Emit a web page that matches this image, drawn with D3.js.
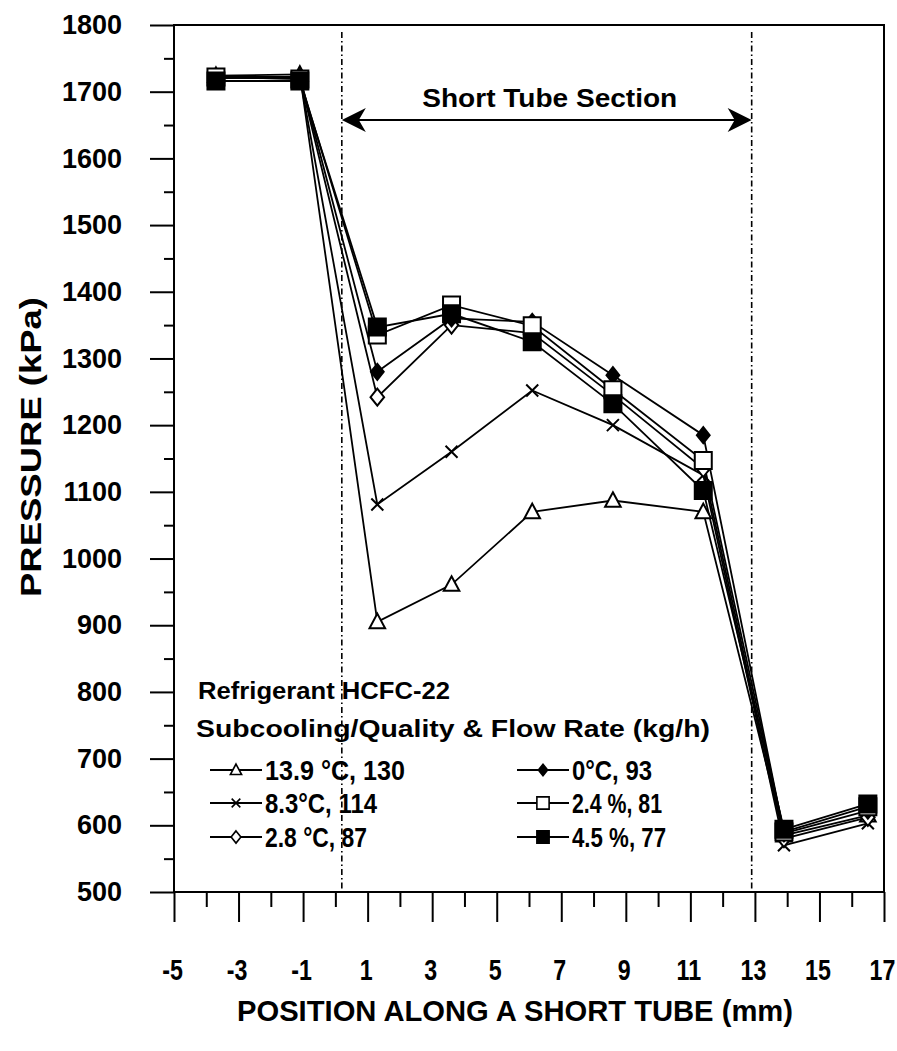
<!DOCTYPE html>
<html><head><meta charset="utf-8">
<script src="https://cdn.jsdelivr.net/npm/d3@7"></script>
<style>
body{margin:0;background:#fff}
svg{display:block}
text{font-family:"Liberation Sans",Arial,Helvetica,sans-serif;fill:#000}
</style>
</head><body>
<svg id="c" width="897" height="1051"></svg>
<script>
// ---- data ----
const positions = [-3.7, -1.1, 1.3, 3.6, 6.1, 8.6, 11.4, 13.9, 16.5];
const seriesNames = ["13.9 °C, 130", "8.3°C, 114", "2.8 °C, 87", "0°C, 93", "2.4 %, 81", "4.5 %, 77"];
const triangleVals      = [1724, 1726, 905, 961, 1070, 1087, 1070, 585, 615];
const crossVals         = [1720, 1722, 1081, 1160, 1252, 1200, 1125, 570, 603];
const diamondOpenVals   = [1721, 1720, 1242, 1350, 1338, 1245, 1135, 580, 612];
const diamondFilledVals = [1722, 1722, 1280, 1360, 1355, 1275, 1185, 588, 622];
const squareOpenVals    = [1722, 1719, 1335, 1380, 1349, 1253, 1147, 590, 628];
const squareFilledVals  = [1716, 1716, 1347, 1367, 1325, 1232, 1102, 594, 632];
const xTickLabels = [-5, -3, -1, 1, 3, 5, 7, 9, 11, 13, 15, 17];
const xMinorTicks = [-4, -2, 0, 2, 4, 6, 8, 10, 12, 14, 16];
const yTickLabels = [500, 600, 700, 800, 900, 1000, 1100, 1200, 1300, 1400, 1500, 1600, 1700, 1800];
const yMinorTicks = [550, 650, 750, 850, 950, 1050, 1150, 1250, 1350, 1450, 1550, 1650, 1750];
const tubeSection = [0.2, 12.9];

// ---- layout ----
const L = 174, R = 884, T = 25, B = 892;
const svg = d3.select("#c");
const x = d3.scaleLinear().domain([-5, 17]).range([L, R]);
const y = d3.scaleLinear().domain([500, 1800]).range([B, T]);

// symbol types
const symTri = {draw(c, s){ const h = s; c.moveTo(0, -h*0.55); c.lineTo(h*0.52, h*0.42); c.lineTo(-h*0.52, h*0.42); c.closePath(); }};
const symCross = {draw(c, s){ const h = s/2; c.moveTo(-h, -h); c.lineTo(h, h); c.moveTo(h, -h); c.lineTo(-h, h); }};
const symDiamond = {draw(c, s){ const h = s/2, w = s*0.4; c.moveTo(0, -h); c.lineTo(w, 0); c.lineTo(0, h); c.lineTo(-w, 0); c.closePath(); }};
const symSquare = {draw(c, s){ const h = s/2; c.rect(-h, -h, s, s); }};

const series = [
  {name: seriesNames[0], vals: triangleVals, type: symTri, size: 15, fill: "#fff"},
  {name: seriesNames[1], vals: crossVals, type: symCross, size: 12, fill: "none"},
  {name: seriesNames[2], vals: diamondOpenVals, type: symDiamond, size: 17, fill: "#fff"},
  {name: seriesNames[3], vals: diamondFilledVals, type: symDiamond, size: 16, fill: "#000"},
  {name: seriesNames[4], vals: squareOpenVals, type: symSquare, size: 17, fill: "#fff"},
  {name: seriesNames[5], vals: squareFilledVals, type: symSquare, size: 17, fill: "#000"}
];

// frame
svg.append("rect").attr("x", L).attr("y", T).attr("width", R - L).attr("height", B - T)
  .attr("fill", "none").attr("stroke", "#000").attr("stroke-width", 2);

// short tube section dash-dot lines
svg.selectAll(".sec").data(tubeSection).enter().append("line")
  .attr("x1", d => x(d)).attr("x2", d => x(d)).attr("y1", T + 7).attr("y2", B - 2)
  .attr("stroke", "#000").attr("stroke-width", 1.6).attr("stroke-dasharray", "6,3,1.5,3");

// arrow
const ay = 120;
svg.append("line").attr("x1", x(tubeSection[0]) + 10).attr("x2", x(tubeSection[1]) - 10)
  .attr("y1", ay).attr("y2", ay).attr("stroke", "#000").attr("stroke-width", 2.2);
const head = (tx, dir) => `M${tx},${ay} L${tx + dir*24},${ay - 12} L${tx + dir*17},${ay} L${tx + dir*24},${ay + 12} Z`;
svg.append("path").attr("d", head(x(tubeSection[0]), 1)).attr("fill", "#000");
svg.append("path").attr("d", head(x(tubeSection[1]), -1)).attr("fill", "#000");
svg.append("text").attr("x", (x(tubeSection[0]) + x(tubeSection[1])) / 2 + 3).attr("y", 107)
  .attr("text-anchor", "middle").attr("font-weight", "bold").attr("font-size", 25)
  .attr("textLength", 255).attr("lengthAdjust", "spacingAndGlyphs").text("Short Tube Section");

// axes
const xAxis = svg.append("g").attr("transform", `translate(0,${B})`)
  .call(d3.axisBottom(x).tickValues(xTickLabels).tickSize(30).tickPadding(37).tickFormat(d3.format("d")));
xAxis.select(".domain").remove();
xAxis.selectAll("line").attr("stroke-width", 2);
xAxis.selectAll("text").attr("font-size", 29).attr("font-weight", "bold")
  .attr("font-family", "Liberation Sans, Arial, sans-serif").attr("transform", "translate(-2,0) scale(0.8,1)")
  .text(d => d < 0 ? "-" + Math.abs(d) : d);
const xMin = svg.append("g").attr("transform", `translate(0,${B})`)
  .call(d3.axisBottom(x).tickValues(xMinorTicks).tickSize(15).tickFormat(""));
xMin.select(".domain").remove();
xMin.selectAll("line").attr("stroke-width", 2);

const yAxis = svg.append("g").attr("transform", `translate(${L},0)`)
  .call(d3.axisLeft(y).tickValues(yTickLabels).tickSize(24).tickPadding(28).tickFormat(d3.format("d")));
yAxis.select(".domain").remove();
yAxis.selectAll("line").attr("stroke-width", 2);
yAxis.selectAll("text").attr("font-size", 27).attr("font-weight", "bold")
  .attr("font-family", "Liberation Sans, Arial, sans-serif");
const yMin = svg.append("g").attr("transform", `translate(${L},0)`)
  .call(d3.axisLeft(y).tickValues(yMinorTicks).tickSize(10).tickFormat(""));
yMin.select(".domain").remove();
yMin.selectAll("line").attr("stroke-width", 2);

// axis titles
svg.append("text").attr("x", 515).attr("y", 1021).attr("text-anchor", "middle")
  .attr("font-size", 30).attr("font-weight", "bold").attr("textLength", 556)
  .attr("lengthAdjust", "spacingAndGlyphs").text("POSITION ALONG A SHORT TUBE (mm)");
svg.append("text").attr("transform", "translate(41,447) rotate(-90)").attr("text-anchor", "middle")
  .attr("font-size", 30).attr("font-weight", "bold").attr("textLength", 300)
  .attr("lengthAdjust", "spacingAndGlyphs").text("PRESSURE (kPa)");

// lines
const line = d3.line().x((d, i) => x(positions[i])).y(d => y(d));
const plot = svg.append("g");
series.forEach(s => {
  plot.append("path").attr("d", line(s.vals)).attr("fill", "none")
    .attr("stroke", "#000").attr("stroke-width", 1.8);
});
series.forEach(s => {
  const sym = d3.symbol().type(s.type).size(s.size);
  plot.selectAll(null).data(s.vals).enter().append("path")
    .attr("transform", (d, i) => `translate(${x(positions[i])},${y(d)})`)
    .attr("d", sym).attr("fill", s.fill).attr("stroke", "#000").attr("stroke-width", 2);
});

// legend
const lg = svg.append("g");
lg.append("text").attr("x", 198).attr("y", 699).attr("font-size", 24).attr("font-weight", "bold")
  .attr("textLength", 252).attr("lengthAdjust", "spacingAndGlyphs").text("Refrigerant HCFC-22");
lg.append("text").attr("x", 196).attr("y", 737).attr("font-size", 24).attr("font-weight", "bold")
  .attr("textLength", 514).attr("lengthAdjust", "spacingAndGlyphs").text("Subcooling/Quality & Flow Rate (kg/h)");
const legendRows = [770, 803, 837];
const legendLens = [140, 112, 102, 80, 90, 94];
series.forEach((s, i) => {
  const col = Math.floor(i / 3), row = i % 3;
  const x0 = col === 0 ? 210 : 517, yy = legendRows[row];
  lg.append("line").attr("x1", x0).attr("x2", x0 + 52).attr("y1", yy).attr("y2", yy)
    .attr("stroke", "#000").attr("stroke-width", 2);
  lg.append("path").attr("transform", `translate(${x0 + 26},${yy})`)
    .attr("d", d3.symbol().type(s.type).size(s.size * 0.72)).attr("fill", s.fill)
    .attr("stroke", "#000").attr("stroke-width", 1.6);
  lg.append("text").attr("x", x0 + 55).attr("y", yy + 10).attr("font-size", 27).attr("font-weight", "bold")
    .attr("textLength", legendLens[i]).attr("lengthAdjust", "spacingAndGlyphs").text(s.name);
});
</script>
</body></html>
